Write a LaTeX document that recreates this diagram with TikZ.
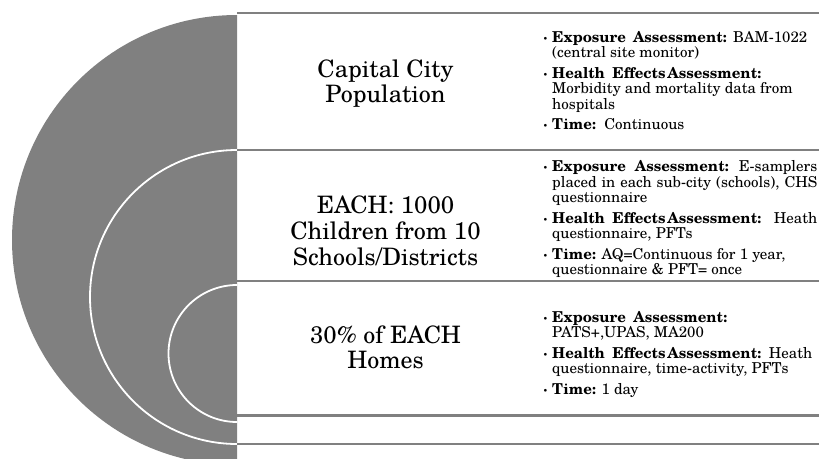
\documentclass[tikz,border=0pt]{standalone}
\usepackage{fontspec}
\setmainfont{TeX Gyre Schola}
\definecolor{discgray}{RGB}{128,128,128}
\definecolor{rulegray}{RGB}{128,128,128}
% bold lead-ins of the detail bullets
\newcommand{\expo}{\textbf{Exposure\hspace{0.15em} Assessment:}}
\newcommand{\heal}{\textbf{Health\hspace{0.5em}Effects\hspace{0.12em}Assessment:}}
% a line spread out to a given width
\newcommand{\spread}[2]{\makebox[#1][s]{#2}}
\begin{document}
\begin{tikzpicture}[x=1pt,y=-1pt,
  rule/.style={draw=rulegray, line width=2.2pt},
  ring/.style={draw=white, line width=1.8pt},
  title/.style={font=\fontsize{24}{27}\selectfont, anchor=base, inner sep=0pt},
  item/.style={font=\fontsize{15}{15.5}\selectfont, anchor=base west, inner sep=0pt},
  dot/.style={font=\fontsize{15}{15.5}\selectfont\bfseries, anchor=base, inner sep=0pt}]
\useasboundingbox (0,0) rectangle (819,458);

% nested half discs on the left
\begin{scope}
  \clip (0,0) rectangle (237,458);
  \fill[discgray] (237,240) circle[radius=225];
  \draw[ring] (237,297) circle[radius=147];
  \draw[ring] (237,353.5) circle[radius=68.5];
\end{scope}

% horizontal rules separating the rows
\foreach \yy in {13,150,281,415.5,444}
  \draw[rule] (237,\yy) -- (819,\yy);

% row titles
\node[title] (t1a) at (385.5,77) {Capital City};
\node[title] (t1b) at (385.5,102) {Population};
\node[title] (t2a) at (385.5,213) {EACH: 1000};
\node[title] (t2b) at (385.5,239) {Children from 10};
\node[title] (t2c) at (385.5,265) {Schools/Districts};
\node[title] (t3a) at (385.5,343) {30\% of EACH};
\node[title] (t3b) at (385.5,368) {Homes};

% row 1 details
\node[dot] (b1a) at (545.5,42) {·};
\node[item] (r1a) at (552,42) {\spread{255pt}{\expo{} BAM-1022}};
\node[item] (r1b) at (552,57.5) {(central site monitor)};
\node[dot] (b1b) at (545.5,78) {·};
\node[item] (r1c) at (552,78) {\heal};
\node[item] (r1d) at (552,93.5) {Morbidity and mortality data from};
\node[item] (r1e) at (552,109) {hospitals};
\node[dot] (b1c) at (545.5,129.5) {·};
\node[item] (r1f) at (552,129.5) {\textbf{Time:}\ \ Continuous};

% row 2 details
\node[dot] (b2a) at (545.5,171.5) {·};
\node[item] (r2a) at (552,171.5) {\spread{265pt}{\expo{} E-samplers}};
\node[item] (r2b) at (552,187) {\spread{265pt}{placed in each sub-city (schools), CHS}};
\node[item] (r2c) at (552,202.5) {questionnaire};
\node[dot] (b2b) at (545.5,223) {·};
\node[item] (r2d) at (552,223) {\spread{265pt}{\heal{} Heath}};
\node[item] (r2e) at (552,238.5) {questionnaire, PFTs};
\node[dot] (b2c) at (545.5,259) {·};
\node[item] (r2f) at (552,259) {\textbf{Time:} AQ=Continuous for 1 year,};
\node[item] (r2g) at (552,274.5) {questionnaire \& PFT= once};

% row 3 details
\node[dot] (b3a) at (545.5,322) {·};
\node[item] (r3a) at (552,322) {\spread{175pt}{\expo}};
\node[item] (r3b) at (552,337.5) {PATS+,UPAS, MA200};
\node[dot] (b3b) at (545.5,358) {·};
\node[item] (r3c) at (552,358) {\spread{260pt}{\heal{} Heath}};
\node[item] (r3d) at (552,373.5) {questionnaire, time-activity, PFTs};
\node[dot] (b3c) at (545.5,394) {·};
\node[item] (r3e) at (552,394) {\textbf{Time:} 1 day};
\end{tikzpicture}
\end{document}
